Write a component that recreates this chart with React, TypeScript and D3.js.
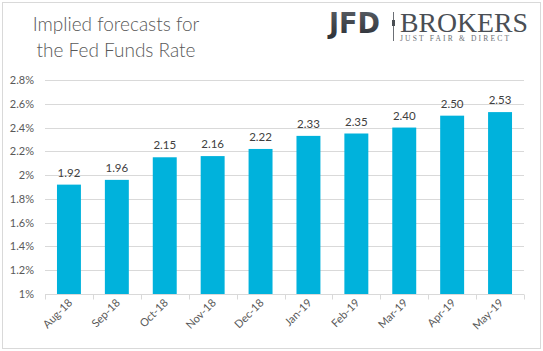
import { useEffect, useRef } from "react";
import * as d3 from "d3";

const months = ["Aug-18", "Sep-18", "Oct-18", "Nov-18", "Dec-18", "Jan-19", "Feb-19", "Mar-19", "Apr-19", "May-19"];
const rates = [1.92, 1.96, 2.15, 2.16, 2.22, 2.33, 2.35, 2.4, 2.5, 2.53];
const yTicks = [1, 1.2, 1.4, 1.6, 1.8, 2, 2.2, 2.4, 2.6, 2.8];
const titleLines = ["Implied forecasts for", "the Fed Funds Rate"];

const W = 543;
const H = 351;
const FONT = "Lato, 'Open Sans', sans-serif";

export default function App() {
    const svgRef = useRef<SVGSVGElement>(null);

    useEffect(() => {
        if (!svgRef.current) return;
        const svg = d3.select(svgRef.current);
        svg.selectAll("*").remove();

        // fundo e borda
        svg.append("rect")
            .attr("x", 2.5).attr("y", 2.5)
            .attr("width", W - 5).attr("height", H - 5)
            .attr("fill", "#fff")
            .attr("stroke", "#d9d9d9");

        const x = d3.scaleBand<string>()
            .domain(months)
            .range([45, 524])
            .paddingInner(0.5)
            .paddingOuter(0.25);

        const y = d3.scaleLinear().domain([1, 2.8]).range([294, 80]);

        // grade
        svg.append("g")
            .selectAll("line")
            .data(yTicks.slice(1))
            .join("line")
            .attr("x1", 45).attr("x2", 524)
            .attr("y1", (d) => Math.round(y(d)) + 0.5)
            .attr("y2", (d) => Math.round(y(d)) + 0.5)
            .attr("stroke", "#d9d9d9");

        svg.append("g")
            .selectAll("text")
            .data(yTicks)
            .join("text")
            .attr("x", 34)
            .attr("y", (d) => y(d) + 4)
            .attr("text-anchor", "end")
            .style("font-family", FONT)
            .style("font-size", "11px")
            .style("fill", "#595959")
            .text((d) => `${d3.format("~g")(d)}%`);

        // barras
        svg.append("g")
            .selectAll("rect")
            .data(rates)
            .join("rect")
            .attr("x", (_, i) => x(months[i])!)
            .attr("width", x.bandwidth())
            .attr("y", (d) => y(d))
            .attr("height", (d) => y(1) - y(d))
            .attr("fill", "#00b2dc");

        svg.append("g")
            .selectAll("text")
            .data(rates)
            .join("text")
            .attr("x", (_, i) => x(months[i])! + x.bandwidth() / 2)
            .attr("y", (d) => y(d) - 8)
            .attr("text-anchor", "middle")
            .style("font-family", FONT)
            .style("font-size", "11.5px")
            .style("fill", "#404040")
            .text((d) => d.toFixed(2));

        // eixo x
        const axisY = Math.round(y(1)) + 0.5;
        svg.append("line")
            .attr("x1", 45).attr("x2", 524)
            .attr("y1", axisY).attr("y2", axisY)
            .attr("stroke", "#d9d9d9");

        svg.append("g")
            .selectAll("line")
            .data(d3.range(months.length + 1))
            .join("line")
            .attr("x1", (i) => Math.round(45 + i * x.step()) + 0.5)
            .attr("x2", (i) => Math.round(45 + i * x.step()) + 0.5)
            .attr("y1", axisY).attr("y2", axisY + 5)
            .attr("stroke", "#d9d9d9");

        svg.append("g")
            .selectAll("text")
            .data(months)
            .join("text")
            .attr("transform", (d) => `translate(${x(d)! + x.bandwidth() / 2 + 4},${axisY + 9}) rotate(-45)`)
            .attr("text-anchor", "end")
            .style("font-family", FONT)
            .style("font-size", "11px")
            .style("fill", "#595959")
            .text((d) => d);

        // titulo
        svg.append("g")
            .selectAll("text")
            .data(titleLines)
            .join("text")
            .attr("x", 116)
            .attr("y", (_, i) => 31 + i * 26)
            .attr("text-anchor", "middle")
            .style("font-family", FONT)
            .style("font-weight", "300")
            .style("font-size", "19px")
            .style("fill", "#595959")
            .text((d) => d);

        // logo
        const grad = svg.append("defs").append("linearGradient")
            .attr("id", "jfd").attr("x1", 0).attr("x2", 0).attr("y1", 0).attr("y2", 1);
        grad.append("stop").attr("offset", "0%").attr("stop-color", "#5a5f66");
        grad.append("stop").attr("offset", "100%").attr("stop-color", "#2b2f35");

        svg.append("text")
            .attr("x", 329).attr("y", 33)
            .attr("textLength", 51)
            .attr("lengthAdjust", "spacingAndGlyphs")
            .style("font-family", "'DejaVu Sans', sans-serif")
            .style("font-weight", "bold")
            .style("font-size", "28px")
            .style("fill", "url(#jfd)")
            .text("JFD");

        svg.append("line")
            .attr("x1", 393.5).attr("x2", 393.5)
            .attr("y1", 12).attr("y2", 41)
            .attr("stroke", "#6b6f75").attr("stroke-width", 1);
        svg.append("rect")
            .attr("x", 392).attr("y", 20).attr("width", 3).attr("height", 6)
            .attr("fill", "#4a4e54");

        svg.append("text")
            .attr("x", 400).attr("y", 32)
            .attr("textLength", 128)
            .attr("lengthAdjust", "spacingAndGlyphs")
            .style("font-family", "'Liberation Serif', serif")
            .style("font-size", "27px")
            .style("fill", "#4a4e54")
            .text("BROKERS");

        svg.append("text")
            .attr("x", 400).attr("y", 40.5)
            .attr("textLength", 109)
            .attr("lengthAdjust", "spacing")
            .style("font-family", "'Liberation Serif', serif")
            .style("font-size", "7.5px")
            .style("fill", "#6b6f75")
            .text("JUST FAIR & DIRECT");
    }, []);

    return (
        <svg
            ref={svgRef}
            width={W}
            height={H}
            viewBox={`0 0 ${W} ${H}`}
            style={{ position: "absolute", left: 0, top: 0 }}
        />
    );
}
